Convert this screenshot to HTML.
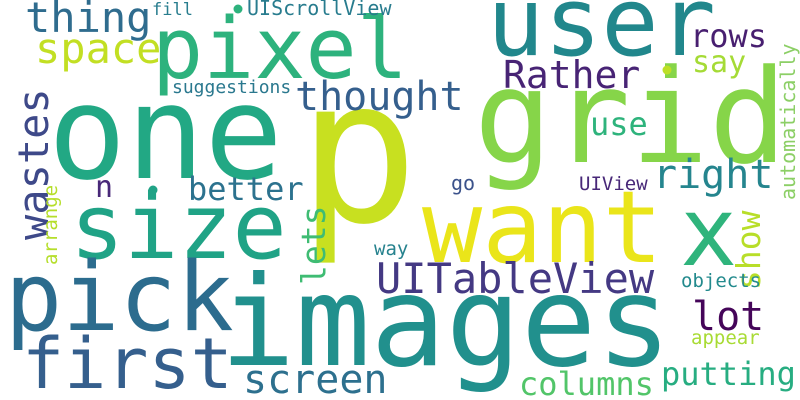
<!DOCTYPE html>
<html><head><meta charset="utf-8"><style>
html,body{margin:0;padding:0;background:#fff;}
svg{display:block;}
text{font-family:"DejaVu Sans Mono","Liberation Mono",monospace;}
</style></head><body>
<svg id="cloud" width="800" height="400" viewBox="0 0 800 400" xmlns="http://www.w3.org/2000/svg">
<rect width="800" height="400" fill="#fff"/>
</svg>
<script>
// word, font size, x, y, rotation, color
const words = ["p","grid","user","pixel","one","images","want","size","pick","x","first","thing","space","fill","UIScrollView","suggestions","thought","wastes","arrange","n","better","Rather","rows","say","use","right","automatically","go","UIView","way","lets","UITableView","show","objects","lot","appear","screen","columns","putting"];
const sizes = [200,130,95,85,130,125,100,90,95,95,70,42,42,17,20,18,40,42,19,30,32,38,32,30,32,40,20,20,19,19,33,42,33,19,40,19,40,32,32];
const xs = [298,474,487,152,48,220,422,70,5,680,22,25,35,152,247,172,295,48,57,95,188,503,690,692,590,653,795,451,579,374,325,376,760,681,692,691,243,519,661];
const ys = [221,162,55,78,178,365,262,258,330,265,388,32,63,15,15,93,110,240,265,197,200,88,47,72,135,188,200,190,190,255,285,293,290,287,330,344,393,395,385];
const rots = [0,0,0,0,0,0,0,0,0,0,0,0,0,0,0,0,0,-90,-90,0,0,0,0,0,0,0,-90,0,0,0,-90,0,-90,0,0,0,0,0,0];
const colors = ["#c8e020","#86d549","#21878c","#2db27d","#22a884","#21908d","#eae51a","#20a386","#2c6c8e","#2fb47c","#355f8d","#2f6c8e","#c2df23","#287d8e","#287c8e","#2a788e","#355f8d","#3e4989","#b5de2b","#482878","#2c728e","#482475","#481f70","#a5db36","#2eb37c","#25858e","#8ccf66","#3b528b","#482878","#26828e","#3fbc73","#443983","#b8de29","#238a8d","#450559","#a8db34","#2d708e","#52c569","#27ad81"];
const dotX = [238,667,153];
const dotY = [9,70,190];
const dotColors = ["#2db27d","#bddf26","#20a386"];
const svg = document.getElementById('cloud');
const NS = "http://www.w3.org/2000/svg";
for (let i = 0; i < words.length; i++) {
  const t = document.createElementNS(NS, 'text');
  t.setAttribute('x', xs[i]);
  t.setAttribute('y', ys[i]);
  t.setAttribute('font-size', sizes[i]);
  t.setAttribute('fill', colors[i]);
  if (rots[i]) t.setAttribute('transform', 'rotate(' + rots[i] + ' ' + xs[i] + ' ' + ys[i] + ')');
  t.textContent = words[i];
  
  
  svg.appendChild(t);
}
for (let i = 0; i < dotX.length; i++) {
  const c = document.createElementNS(NS, 'circle');
  c.setAttribute('cx', dotX[i]);
  c.setAttribute('cy', dotY[i]);
  c.setAttribute('r', 4.5);
  c.setAttribute('fill', dotColors[i]);
  
  
  svg.appendChild(c);
}
</script>
</body></html>
